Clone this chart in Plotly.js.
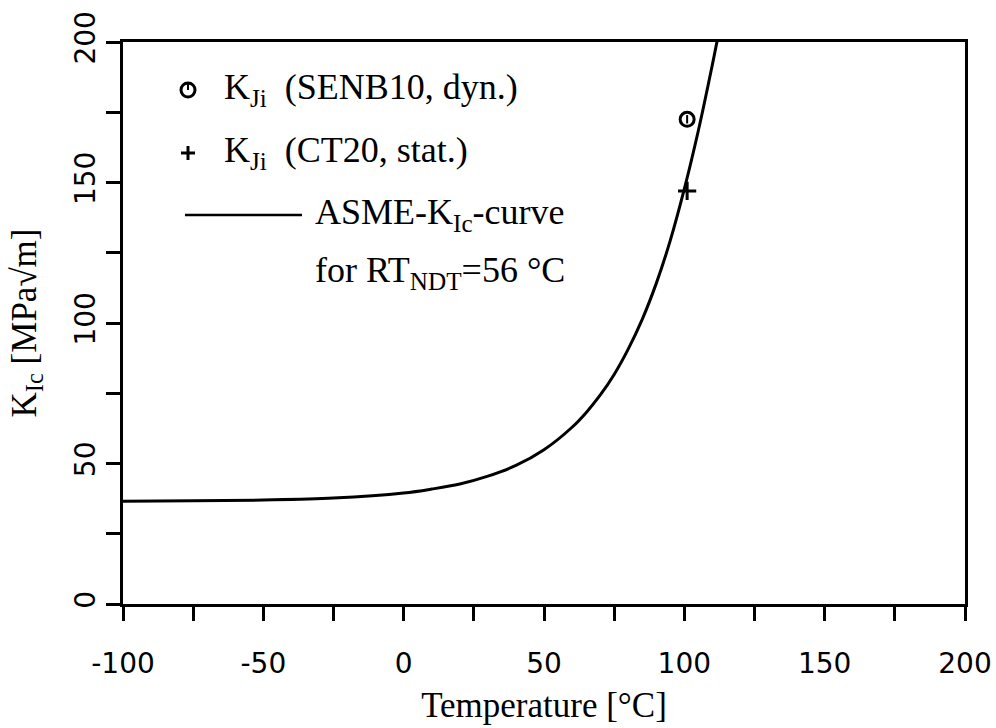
<!DOCTYPE html>
<html>
<head>
<meta charset="utf-8">
<script src="https://cdn.plot.ly/plotly-3.0.1.min.js"></script>
<style>
html,body{margin:0;padding:0;background:#fff;}
#chart{width:996px;height:728px;}
</style>
</head>
<body>
<div id="chart"></div>
<script>
// ASME-KIc curve (Temperature °C, KIc MPa√m)
const curveT = [-100, -75, -50, -25, 0, 10, 20, 30, 40, 50, 60, 65, 70, 75, 80, 85, 90, 95, 100, 105, 110, 112];
const curveK = [36.6, 36.7, 37.0, 37.7, 39.5, 40.9, 42.7, 45.5, 49.3, 54.9, 62.9, 68.1, 74.3, 81.7, 90.7, 101.3, 114.1, 129.4, 147.7, 168.5, 192.0, 202.0];

// measured points
const senbT = [101];
const senbK = [172.5];
const ctT = [101];
const ctK = [147];

// ticks
const xTickVals = [-100, -50, 0, 50, 100, 150, 200];
const xTickText = ['-100', '-50', '0', '50', '100', '150', '200'];
const xMinorVals = [-75, -25, 25, 75, 125, 175];
const yTickVals = [0, 50, 100, 150, 200];
const yTickText = ['0', '50', '100', '150', '200'];
const yMinorVals = [25, 75, 125, 175];

// legend texts
const legendLabels = [
  'K<sub>Ji</sub>  (SENB10, dyn.)',
  'K<sub>Ji</sub>  (CT20, stat.)',
  'ASME-K<sub>Ic</sub>-curve',
  'for RT<sub>NDT</sub>=56 °C'
];

const serif = 'Liberation Serif, Times New Roman, serif';
const sans = 'DejaVu Sans, sans-serif';

const traces = [
  {x: curveT, y: curveK, mode: 'lines', line: {color: '#000', width: 3, shape: 'spline'}, hoverinfo: 'skip'},
  {x: senbT, y: senbK, mode: 'markers', cliponaxis: false,
   marker: {symbol: 'circle-open', size: 14, color: '#000', line: {width: 3, color: '#000'}}},
  {x: senbT, y: senbK, mode: 'markers', cliponaxis: false,
   marker: {symbol: 'line-ns', size: 6, color: '#000', line: {width: 2, color: '#000'}}},
  {x: ctT, y: ctK, mode: 'markers', cliponaxis: false,
   marker: {symbol: 'cross-thin-open', size: 13, color: '#000', line: {width: 3, color: '#000'}}}
];

// legend geometry in paper coordinates
const symX = 0.0772;
const rowY = [0.9146, 0.8025, 0.6922, 0.5907];

const annotations = [
  {text: legendLabels[0], x: 0.1176, y: rowY[0]},
  {text: legendLabels[1], x: 0.1176, y: rowY[1]},
  {text: legendLabels[2], x: 0.2257, y: rowY[2]},
  {text: legendLabels[3], x: 0.2257, y: rowY[3]}
].map(a => Object.assign(a, {xref: 'paper', yref: 'paper', xanchor: 'left', yanchor: 'middle',
  showarrow: false, font: {family: serif, size: 36, color: '#000'}}));

const shapes = [
  {type: 'circle', xref: 'paper', yref: 'paper', xsizemode: 'pixel', ysizemode: 'pixel',
   xanchor: symX, yanchor: rowY[0], x0: -7, x1: 7, y0: -7, y1: 7, line: {color: '#000', width: 3}},
  {type: 'line', xref: 'paper', yref: 'paper', xsizemode: 'pixel', ysizemode: 'pixel',
   xanchor: symX, yanchor: rowY[0], x0: 0, x1: 0, y0: 0, y1: 6, line: {color: '#000', width: 2}},
  {type: 'line', xref: 'paper', yref: 'paper', xsizemode: 'pixel', ysizemode: 'pixel',
   xanchor: symX, yanchor: rowY[1], x0: -7, x1: 7, y0: 0, y1: 0, line: {color: '#000', width: 3}},
  {type: 'line', xref: 'paper', yref: 'paper', xsizemode: 'pixel', ysizemode: 'pixel',
   xanchor: symX, yanchor: rowY[1], x0: 0, x1: 0, y0: -7, y1: 7, line: {color: '#000', width: 3}},
  {type: 'line', xref: 'paper', yref: 'paper', x0: 0.0736, x1: 0.2126, y0: rowY[2], y1: rowY[2],
   line: {color: '#000', width: 2.5}}
];

const minorStyle = {ticks: 'outside', ticklen: 14, tickwidth: 3, tickcolor: '#000', showgrid: false};

const layout = {
  width: 996, height: 728,
  margin: {l: 123, r: 31, t: 42, b: 124},
  paper_bgcolor: '#fff', plot_bgcolor: '#fff',
  showlegend: false,
  xaxis: {
    range: [-100, 200], tickmode: 'array', tickvals: xTickVals, ticktext: xTickText,
    ticks: 'outside', ticklen: 14, tickwidth: 3, tickcolor: '#000', ticklabelstandoff: 18,
    minor: Object.assign({tickmode: 'array', tickvals: xMinorVals}, minorStyle),
    showline: true, linewidth: 3, linecolor: '#000', mirror: true,
    showgrid: false, zeroline: false, automargin: false,
    tickfont: {family: sans, size: 28, color: '#000'},
    title: {text: 'Temperature [°C]', font: {family: serif, size: 35, color: '#000'}, standoff: 14}
  },
  yaxis: {
    range: [0, 200], tickmode: 'array', tickvals: yTickVals, ticktext: yTickText,
    ticks: 'outside', ticklen: 14, tickwidth: 3, tickcolor: '#000', tickangle: -90,
    minor: Object.assign({tickmode: 'array', tickvals: yMinorVals}, minorStyle),
    showline: true, linewidth: 3, linecolor: '#000', mirror: true,
    showgrid: false, zeroline: false, automargin: false,
    tickfont: {family: sans, size: 28, color: '#000'},
    title: {text: 'K<sub>Ic</sub> [MPa√m]', font: {family: serif, size: 35, color: '#000'}, standoff: 22}
  },
  annotations: annotations,
  shapes: shapes
};

Plotly.newPlot('chart', traces, layout, {displayModeBar: false, staticPlot: true});
</script>
</body>
</html>
